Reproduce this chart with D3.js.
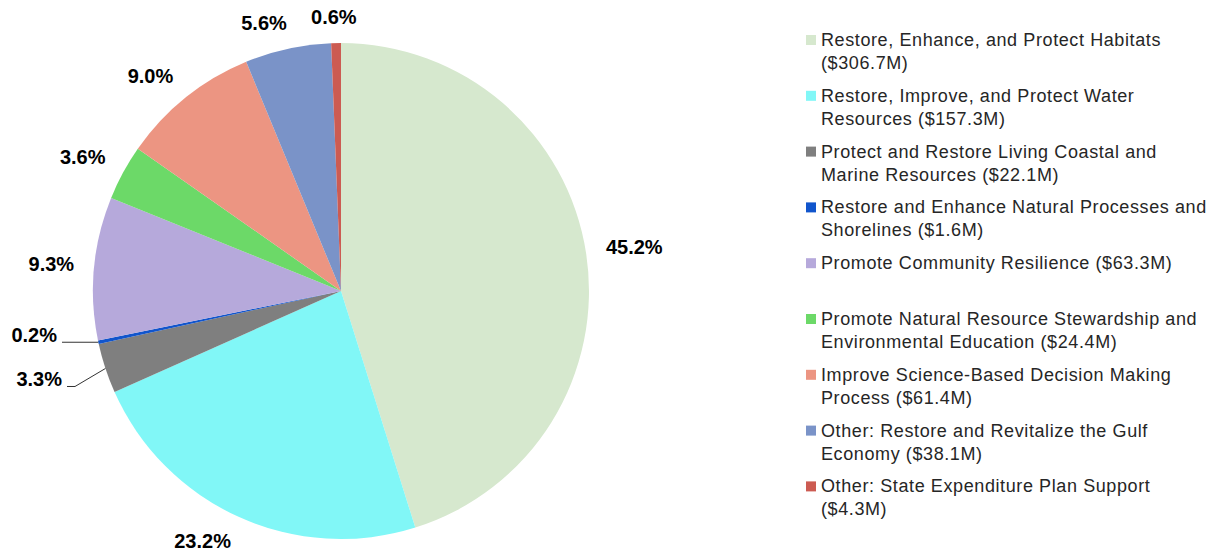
<!DOCTYPE html>
<html>
<head>
<meta charset="utf-8">
<script src="https://cdn.jsdelivr.net/npm/d3@7"></script>
<style>
  body { margin: 0; background: #fff; }
  svg { display: block; }
</style>
</head>
<body>
<svg width="1217" height="552"></svg>
<script>
// data
var categories = [
  "Restore, Enhance, and Protect Habitats",
  "Restore, Improve, and Protect Water Resources",
  "Protect and Restore Living Coastal and Marine Resources",
  "Restore and Enhance Natural Processes and Shorelines",
  "Promote Community Resilience",
  "Promote Natural Resource Stewardship and Environmental Education",
  "Improve Science-Based Decision Making Process",
  "Other: Restore and Revitalize the Gulf Economy",
  "Other: State Expenditure Plan Support"
];
var amounts = [306.7, 157.3, 22.1, 1.6, 63.3, 24.4, 61.4, 38.1, 4.3];
var legendLines = [
  ["Restore, Enhance, and Protect Habitats", "($306.7M)"],
  ["Restore, Improve, and Protect Water", "Resources ($157.3M)"],
  ["Protect and Restore Living Coastal and", "Marine Resources ($22.1M)"],
  ["Restore and Enhance Natural Processes and", "Shorelines ($1.6M)"],
  ["Promote Community Resilience ($63.3M)"],
  ["Promote Natural Resource Stewardship and", "Environmental Education ($24.4M)"],
  ["Improve Science-Based Decision Making", "Process ($61.4M)"],
  ["Other: Restore and Revitalize the Gulf", "Economy ($38.1M)"],
  ["Other: State Expenditure Plan Support", "($4.3M)"]
];
var colors = ["#d6e8ce", "#81f7f7", "#7f7f7f", "#1155cc", "#b6a9db",
              "#6cd968", "#ec9582", "#7a93c8", "#cc5b52"];

var svg = d3.select("svg");
var cx = 341, cy = 291, radius = 248;

var data = categories.map(function(c, i) {
  return { name: c, value: amounts[i], color: colors[i], idx: i };
});
var total = d3.sum(amounts);

var pie = d3.pie().sort(null).value(function(d) { return d.value; });
var arc = d3.arc().innerRadius(0).outerRadius(radius);
var arcs = pie(data);

var g = svg.append("g").attr("transform", "translate(" + cx + "," + cy + ")");

g.selectAll("path.slice")
  .data(arcs)
  .enter().append("path")
    .attr("class", "slice")
    .attr("d", arc)
    .attr("fill", function(d) { return d.data.color; });

// labels
var fmt = function(d) { return (d.data.value / total * 100).toFixed(1) + "%"; };
var leader = { 2: 18, 3: 0 };   // slices whose label uses a leader line (extra drop)
var labelFont = "bold 20px 'Liberation Sans', Arial, sans-serif";

arcs.forEach(function(d) {
  var mid = (d.startAngle + d.endAngle) / 2;
  var ux = Math.sin(mid), uy = -Math.cos(mid);
  var txt = fmt(d);
  if (d.data.idx in leader) {
    var ex = ux * radius, ey = uy * radius;
    var ly = ey + leader[d.data.idx];
    var endX = d.data.idx === 3 ? -radius - 31 : -radius - 26;
    var elbowX = d.data.idx === 3 ? ex : endX + 8;
    g.append("polyline")
      .attr("points", [[ex, ey], [elbowX, ly], [endX, ly]].map(function(p) { return p.join(","); }).join(" "))
      .attr("fill", "none")
      .attr("stroke", "#333")
      .attr("stroke-width", 1);
    g.append("text")
      .attr("x", endX - 5)
      .attr("y", ly)
      .attr("text-anchor", "end")
      .style("font", labelFont)
      .attr("fill", "#000")
      .text(txt);
    return;
  }
  var r = radius + 20;
  var t = g.append("text")
    .attr("text-anchor", "middle")
    .attr("dominant-baseline", "central")
    .style("font", labelFont)
    .attr("fill", "#000")
    .text(txt);
  var w = t.node().getComputedTextLength(), h = 12;
  var ox = w / 2 * Math.sign(ux) * Math.min(1, Math.abs(ux) * 4);
  var oy = h / 2 * Math.sign(uy) * Math.min(1, Math.abs(uy) * 4);
  t.attr("x", ux * r + ox).attr("y", uy * r + oy);
});

// legend
var legend = svg.append("g").attr("transform", "translate(806,40)");
var item = legend.selectAll("g")
  .data(legendLines)
  .enter().append("g")
    .attr("transform", function(d, i) { return "translate(0," + (i * 55.8) + ")"; });

item.append("rect")
  .attr("x", 0).attr("y", -5)
  .attr("width", 10).attr("height", 10)
  .attr("fill", function(d, i) { return colors[i]; });

item.each(function(lines) {
  var t = d3.select(this).append("text")
    .attr("x", 15)
    .attr("y", 6)
    .style("font", "18px 'Liberation Sans', Arial, sans-serif")
    .style("letter-spacing", "0.6px")
    .attr("fill", "#262626");
  lines.forEach(function(l, j) {
    t.append("tspan").attr("x", 15).attr("dy", j === 0 ? 0 : 23).text(l);
  });
});
</script>
</body>
</html>
